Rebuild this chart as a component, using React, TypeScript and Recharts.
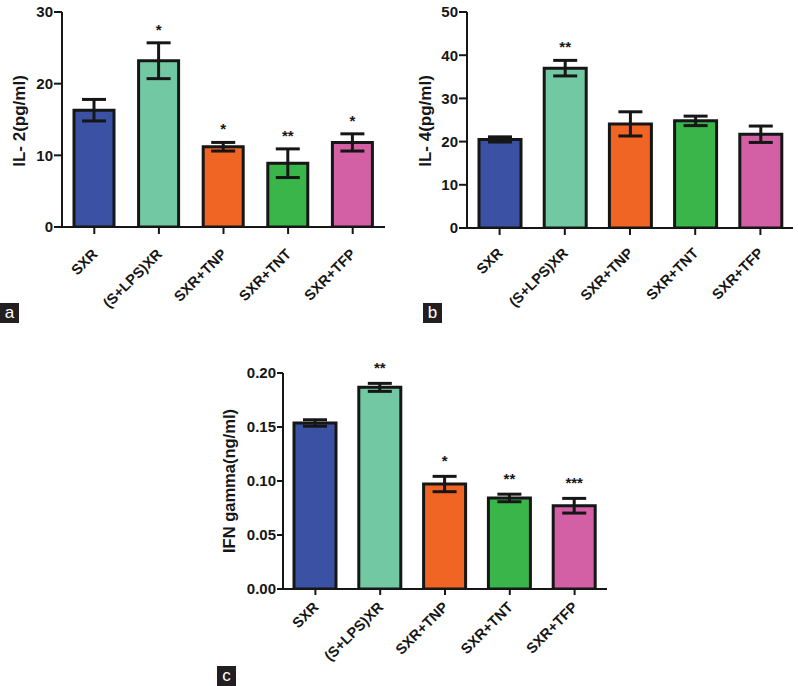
import React from "react";
import {
  Bar,
  BarChart,
  Cell,
  ErrorBar,
  LabelList,
  XAxis,
  YAxis,
} from "recharts";

const groups = ["SXR", "(S+LPS)XR", "SXR+TNP", "SXR+TNT", "SXR+TFP"];
const barColors = ["#3b51a3", "#72c8a2", "#f06424", "#39b54a", "#d35fa5"];

// panel a - IL-2
const il2Mean = [16.3, 23.2, 11.2, 8.9, 11.8];
const il2Sem = [1.5, 2.5, 0.6, 2.0, 1.2];
const il2Sig = ["", "*", "*", "**", "*"];
const il2Ticks = [0, 10, 20, 30];

// panel b - IL-4
const il4Mean = [20.5, 37.0, 24.1, 24.8, 21.7];
const il4Sem = [0.6, 1.8, 2.8, 1.1, 1.9];
const il4Sig = ["", "**", "", "", ""];
const il4Ticks = [0, 10, 20, 30, 40, 50];

// panel c - IFN gamma
const ifnMean = [0.1537, 0.1867, 0.0972, 0.0843, 0.0771];
const ifnSem = [0.003, 0.0037, 0.0071, 0.0035, 0.0068];
const ifnSig = ["", "**", "*", "**", "***"];
const ifnTicks = [0, 0.05, 0.1, 0.15, 0.2];

const FONT = '"Liberation Sans", Arial, Helvetica, sans-serif';
const INK = "#161616";

interface PanelProps {
  mean: number[];
  sem: number[];
  sig: string[];
  ticks: number[];
  title: string;
  decimals: number;
  left: number;
  top: number;
  width: number;
  height: number;
  margin: { top: number; right: number; bottom: number; left: number };
  yWidth: number;
  yTickSize: number;
  xTickSize: number;
  labelDy: number;
  titleX: number;
  titleY: number;
  titleSize: number;
  barSize: number;
  starGap: number;
}

const RotatedTick = (props: any) => {
  const { x, y, payload, labelDy } = props;
  return (
    <text
      x={0}
      y={0}
      transform={`translate(${x + 4},${y + labelDy}) rotate(-45)`}
      textAnchor="end"
      fontFamily={FONT}
      fontWeight="bold"
      fontSize={14.5}
      fill={INK}
    >
      {payload.value}
    </text>
  );
};

const YTitle = (props: any) => {
  const { cx, cy, text, size } = props;
  return (
    <text
      x={cx}
      y={cy}
      transform={`rotate(-90, ${cx}, ${cy})`}
      textAnchor="middle"
      dominantBaseline="central"
      fontFamily={FONT}
      fontWeight="bold"
      fontSize={size}
      fill={INK}
    >
      {text}
    </text>
  );
};

const Panel: React.FC<PanelProps> = (p) => {
  const data = groups.map((g, i) => ({
    name: g,
    value: p.mean[i],
    err: p.sem[i],
    sig: p.sig[i],
  }));

  // stars sit a fixed distance above the top of each error bar
  const Stars = (lp: any) => {
    const { x, y, width, height, index } = lp;
    const label = p.sig[index];
    if (!label) return null;
    const pxPerUnit = height / p.mean[index];
    const errTop = y - p.sem[index] * pxPerUnit;
    return (
      <text
        x={x + width / 2}
        y={errTop - p.starGap}
        textAnchor="middle"
        fontFamily={FONT}
        fontWeight="bold"
        fontSize={15}
        fill={INK}
      >
        {label}
      </text>
    );
  };

  const domainMax = p.ticks[p.ticks.length - 1];

  return (
    <div style={{ position: "absolute", left: p.left, top: p.top }}>
      <BarChart
        width={p.width}
        height={p.height}
        data={data}
        margin={p.margin}
      >
        <XAxis
          dataKey="name"
          interval={0}
          axisLine={{ stroke: INK, strokeWidth: 2 }}
          tickLine={{ stroke: INK, strokeWidth: 2 }}
          tickSize={p.xTickSize}
          tickMargin={2}
          height={60}
          tick={<RotatedTick labelDy={p.labelDy} />}
        />
        <YAxis
          width={p.yWidth}
          domain={[0, domainMax]}
          ticks={p.ticks}
          allowDataOverflow
          axisLine={{ stroke: INK, strokeWidth: 2 }}
          tickLine={{ stroke: INK, strokeWidth: 2 }}
          tickSize={p.yTickSize}
          tickMargin={1}
          tickFormatter={(v: number) => v.toFixed(p.decimals)}
          tick={{
            fill: INK,
            fontSize: 15,
            fontWeight: "bold",
            fontFamily: FONT,
          }}
          label={
            <YTitle
              cx={p.titleX}
              cy={p.titleY}
              text={p.title}
              size={p.titleSize}
            />
          }
        />
        <Bar
          dataKey="value"
          barSize={p.barSize}
          stroke={INK}
          strokeWidth={3}
          isAnimationActive={false}
        >
          {data.map((d, i) => (
            <Cell key={d.name} fill={barColors[i]} />
          ))}
          <ErrorBar
            dataKey="err"
            width={12}
            strokeWidth={3}
            stroke={INK}
            direction="y"
            isAnimationActive={false}
          />
          <LabelList dataKey="sig" content={<Stars />} />
        </Bar>
      </BarChart>
    </div>
  );
};

const PanelTag = ({
  letter,
  left,
  top,
}: {
  letter: string;
  left: number;
  top: number;
}) => (
  <div
    style={{
      position: "absolute",
      left,
      top,
      width: 19,
      height: 20,
      background: "#231f20",
      color: "#fff",
      fontFamily: FONT,
      fontSize: 17,
      lineHeight: "19px",
      textAlign: "center",
    }}
  >
    {letter}
  </div>
);

export default function App() {
  return (
    <div
      style={{
        position: "absolute",
        left: 0,
        top: 0,
        width: 798,
        height: 686,
        background: "#fff",
        overflow: "hidden",
      }}
    >
      <Panel
        mean={il2Mean}
        sem={il2Sem}
        sig={il2Sig}
        ticks={il2Ticks}
        title="IL- 2(pg/ml)"
        decimals={0}
        left={0}
        top={0}
        width={400}
        height={320}
        margin={{ top: 12, right: 15, bottom: 33, left: 0 }}
        yWidth={62}
        yTickSize={8}
        xTickSize={7}
        labelDy={19}
        titleX={19}
        titleY={121}
        titleSize={17}
        barSize={40}
        starGap={8}
      />
      <Panel
        mean={il4Mean}
        sem={il4Sem}
        sig={il4Sig}
        ticks={il4Ticks}
        title="IL- 4(pg/ml)"
        decimals={0}
        left={400}
        top={0}
        width={398}
        height={320}
        margin={{ top: 12, right: 5, bottom: 32, left: 0 }}
        yWidth={67}
        yTickSize={8}
        xTickSize={7}
        labelDy={17}
        titleX={25}
        titleY={121}
        titleSize={17}
        barSize={42}
        starGap={8}
      />
      <Panel
        mean={ifnMean}
        sem={ifnSem}
        sig={ifnSig}
        ticks={ifnTicks}
        title="IFN gamma(ng/ml)"
        decimals={2}
        left={200}
        top={340}
        width={420}
        height={346}
        margin={{ top: 33, right: 13, bottom: 37, left: 0 }}
        yWidth={83}
        yTickSize={6}
        xTickSize={6}
        labelDy={11}
        titleX={29}
        titleY={141}
        titleSize={16.5}
        barSize={42}
        starGap={10}
      />
      <PanelTag letter="a" left={0} top={303} />
      <PanelTag letter="b" left={423} top={303} />
      <PanelTag letter="c" left={217} top={666} />
    </div>
  );
}
